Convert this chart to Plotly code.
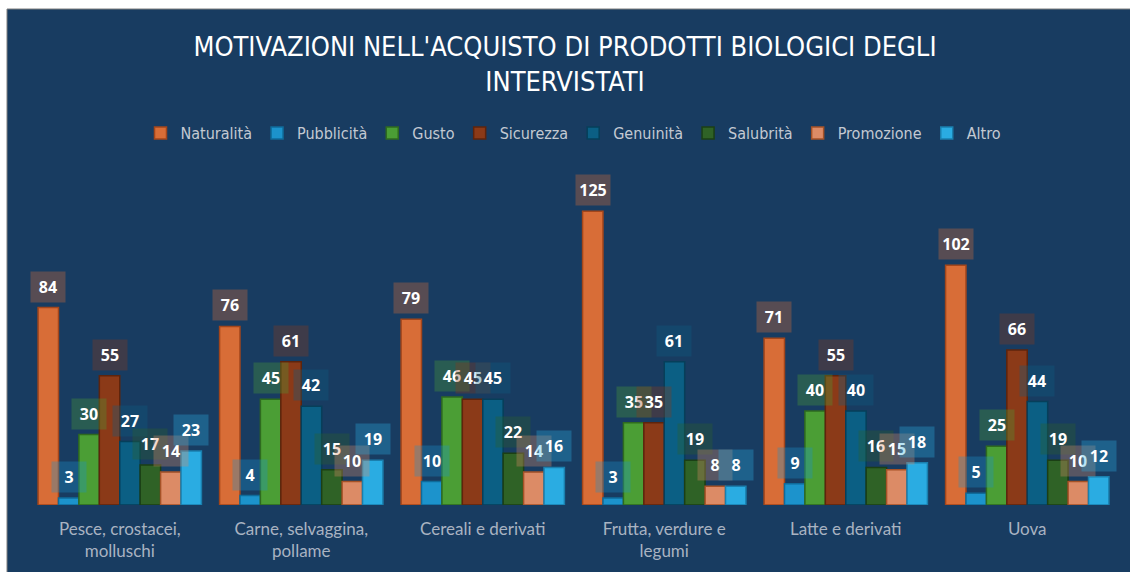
import plotly.graph_objects as go

categories = ["Pesce, crostacei,<br>molluschi", "Carne, selvaggina,<br>pollame", "Cereali e derivati",
              "Frutta, verdure e<br>legumi", "Latte e derivati", "Uova"]
series_names = ["Naturalità", "Pubblicità", "Gusto", "Sicurezza", "Genuinità", "Salubrità", "Promozione", "Altro"]
naturalita = [84, 76, 79, 125, 71, 102]
pubblicita = [3, 4, 10, 3, 9, 5]
gusto = [30, 45, 46, 35, 40, 25]
sicurezza = [55, 61, 45, 35, 55, 66]
genuinita = [27, 42, 45, 61, 40, 44]
salubrita = [17, 15, 22, 19, 16, 19]
promozione = [14, 10, 14, 8, 15, 10]
altro = [23, 19, 16, 8, 18, 12]
series_values = [naturalita, pubblicita, gusto, sicurezza, genuinita, salubrita, promozione, altro]

fills = ["#D86D37", "#1C93CC", "#4B9E35", "#8B3A18", "#0B5F84", "#2F6226", "#DC8B66", "#2AACE2"]
lines = ["#A3461B", "#0F6B9A", "#2E6A1F", "#5E240C", "#063F5A", "#1B3F15", "#A55227", "#1A7FAE"]

W, H = 1130, 572
L, R, T, B = 29, 12, 176, 67
plotw = W - L - R
ploth = H - T - B
bargap = 0.1
NAVY = "#183C61"

def hex_rgba(h, a):
    h = h.lstrip("#")
    return "rgba(%d,%d,%d,%.2f)" % (int(h[0:2], 16), int(h[2:4], 16), int(h[4:6], 16), a)

fig = go.Figure()
for name, vals, fc, lc in zip(series_names, series_values, fills, lines):
    fig.add_trace(go.Bar(name=name, x=categories, y=vals,
                         marker=dict(color=fc, line=dict(color=lc, width=1.5))))

n = len(series_names)
barw = plotw / len(categories) * (1 - bargap) / n
annotations = []
for i, (vals, fc) in enumerate(zip(series_values, fills)):
    for c, v in zip(categories, vals):
        annotations.append(dict(x=c, y=v, xref="x", yref="y", text="<b>%d</b>" % v,
                                showarrow=False, yanchor="bottom", yshift=5,
                                xshift=(i - (n - 1) / 2) * barw,
                                font=dict(family="Open Sans, Lato, sans-serif", size=16, color="#FFFFFF"),
                                bgcolor=hex_rgba(fc, 0.33), width=30, height=26, borderpad=2))

def px_x(p):
    return (p - L) / plotw

def px_y(p):
    return (H - B - p) / ploth

shapes = [dict(type="rect", xref="paper", yref="paper", x0=px_x(7), x1=px_x(1132), y0=px_y(574), y1=px_y(9),
               fillcolor=NAVY, line=dict(color="#7F7F7F", width=1), layer="below")]

NARROW = "Liberation Sans Narrow, DejaVu Sans Condensed, Arial Narrow, sans-serif"

fig.update_layout(
    width=W, height=H,
    margin=dict(l=L, r=R, t=T, b=B),
    paper_bgcolor="#FFFFFF", plot_bgcolor="rgba(0,0,0,0)",
    barmode="group", bargap=bargap, bargroupgap=0,
    title=dict(text="MOTIVAZIONI NELL'ACQUISTO DI PRODOTTI BIOLOGICI DEGLI<br>INTERVISTATI",
               x=0.5, xanchor="center", y=1 - 56 / H, yanchor="middle",
               font=dict(family=NARROW, size=27, color="#FFFFFF")),
    legend=dict(orientation="h", x=0.5, xanchor="center", y=px_y(133), yanchor="middle",
                font=dict(family=NARROW, size=16, color="#C3C9D2"),
                bgcolor="rgba(0,0,0,0)", itemwidth=30, traceorder="normal"),
    xaxis=dict(showgrid=False, showline=False, zeroline=False, ticks="",
               tickfont=dict(family="Lato, Open Sans, sans-serif", size=17, color="#A9B3C1"),
               ticklabelstandoff=12),
    yaxis=dict(range=[0, 140], visible=False, showgrid=False, zeroline=False),
    shapes=shapes,
    annotations=annotations,
    showlegend=True,
)
for tr in fig.data:
    tr.cliponaxis = False

fig.write_html("out.html", config={"displayModeBar": False},
               post_script="document.body.style.margin='0';")
